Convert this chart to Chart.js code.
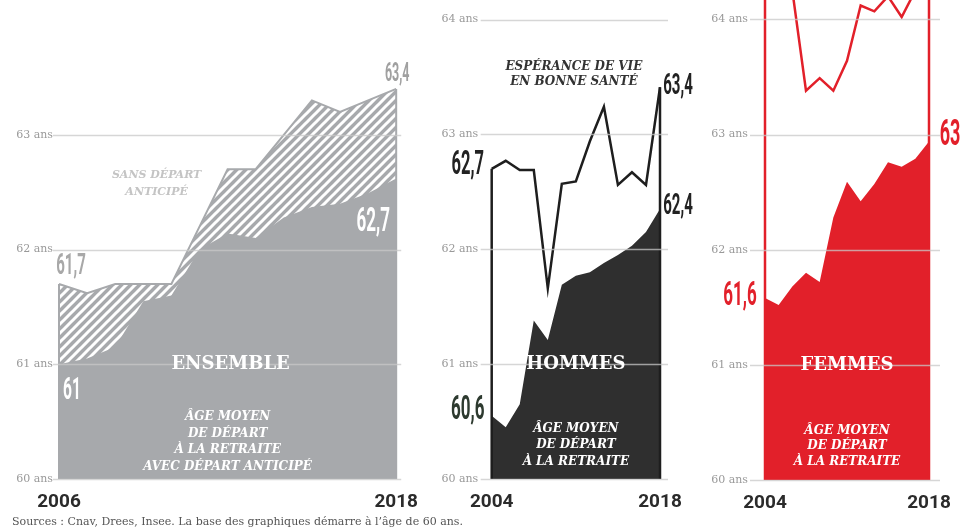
<!DOCTYPE html>
<html lang="fr">
<head>
<meta charset="utf-8">
<script src="https://cdn.jsdelivr.net/npm/chart.js@4.4.1/dist/chart.umd.min.js"></script>
<style>
  html, body { margin: 0; padding: 0; background: #fff; }
  body { position: relative; width: 968px; height: 531px; overflow: hidden; }
  .panneau { position: absolute; top: -30px; }
  #source { position: absolute; left: 12px; top: 515px; font: 11px 'DejaVu Serif', serif; line-height: 14px; color: #555; white-space: nowrap; }
</style>
</head>
<body>
<div class="panneau" style="left:0px"><canvas id="graphe_ensemble" width="430" height="561"></canvas></div>
<div class="panneau" style="left:425px"><canvas id="graphe_hommes" width="275" height="561"></canvas></div>
<div class="panneau" style="left:695px"><canvas id="graphe_femmes" width="273" height="561"></canvas></div>
<div id="source">Sources : Cnav, Drees, Insee. La base des graphiques démarre à l’âge de 60 ans.</div>
<script>
//Couleurs
const gris = '#a7a9ac';
const noir = '#2f2f2f';
const rouge = '#e2202a';

//Ensemble : 2006 à 2018
const anneesEnsemble = ['2006', '2007', '2008', '2009', '2010', '2011', '2012', '2013', '2014', '2015', '2016', '2017', '2018'];
const sansDepartAnticipe = [61.7, 61.62, 61.7, 61.7, 61.7, 62.2, 62.7, 62.7, 63.0, 63.3, 63.2, 63.3, 63.4];
const avecDepartAnticipe = [61.0, 61.05, 61.15, 61.55, 61.6, 62.0, 62.14, 62.1, 62.28, 62.37, 62.4, 62.49, 62.62];

//Hommes et femmes : 13 points entre les reperes 2004 et 2018
const reperesHF = ['2004', '2018'];
const esperanceHommes = [62.7, 62.77, 62.69, 62.69, 61.66, 62.57, 62.59, 62.94, 63.24, 62.56, 62.67, 62.56, 63.41];
const departHommes = [60.55, 60.45, 60.65, 61.38, 61.21, 61.69, 61.77, 61.8, 61.88, 61.95, 62.03, 62.15, 62.35];
const esperanceFemmes = [64.6, 64.5, 64.25, 63.38, 63.49, 63.38, 63.64, 64.12, 64.07, 64.2, 64.02, 64.25, 64.4];
const departFemmes = [61.58, 61.52, 61.68, 61.8, 61.72, 62.28, 62.59, 62.42, 62.57, 62.76, 62.72, 62.79, 62.94];

const pointsHF = esperanceHommes.map((v, i) => i);

//Motif hachure pour "sans depart anticipe"
const hachures = () => {
    let c = document.createElement('canvas');
    c.width = 9;
    c.height = 9;
    let g = c.getContext('2d');
    g.fillStyle = gris;
    g.fillRect(0, 0, 9, 9);
    g.strokeStyle = '#fff';
    g.lineWidth = 3;
    g.beginPath();
    g.moveTo(0, 9); g.lineTo(9, 0);
    g.moveTo(-4.5, 4.5); g.lineTo(4.5, -4.5);
    g.moveTo(4.5, 13.5); g.lineTo(13.5, 4.5);
    g.stroke();
    return g.createPattern(c, 'repeat');
};

//Texte condense (chiffres)
const texteCondense = (ctx, texte, x, y, taille, couleur) => {
    ctx.save();
    ctx.translate(x, y);
    ctx.scale(0.5, 1);
    ctx.font = 'bold ' + taille + 'px Roboto';
    ctx.fillStyle = couleur;
    ctx.textAlign = 'center';
    ctx.textBaseline = 'middle';
    ctx.fillText(texte, 0, 0);
    ctx.restore();
};

//Plugin : grille, bords verticaux, etiquettes
const decor = (conf) => ({
    id: 'decor',
    afterDatasetsDraw(chart) {
        const ctx = chart.ctx;
        const area = chart.chartArea;
        const y = chart.scales.y;
        const base = y.getPixelForValue(60);

        //bords verticaux des courbes
        chart.data.datasets.forEach((ds, i) => {
            if (!ds.bords) return;
            let pts = chart.getDatasetMeta(i).data;
            ctx.save();
            ctx.beginPath();
            ctx.rect(area.left - 3, area.top, area.right - area.left + 6, area.bottom - area.top);
            ctx.clip();
            ctx.strokeStyle = ds.borderColor;
            ctx.lineWidth = ds.borderWidth;
            ctx.beginPath();
            ctx.moveTo(pts[0].x, pts[0].y);
            ctx.lineTo(pts[0].x, base);
            ctx.moveTo(pts[pts.length - 1].x, pts[pts.length - 1].y);
            ctx.lineTo(pts[pts.length - 1].x, base);
            ctx.stroke();
            ctx.restore();
        });

        //grille
        ctx.save();
        ctx.strokeStyle = 'rgba(200, 200, 200, 0.75)';
        ctx.lineWidth = 1.5;
        y.ticks.forEach(t => {
            let py = Math.round(y.getPixelForValue(t.value)) + 0.5;
            ctx.beginPath();
            ctx.moveTo(area.left - conf.gauche, py);
            ctx.lineTo(area.right + conf.droite, py);
            ctx.stroke();
        });
        ctx.restore();

        //valeurs
        conf.valeurs.forEach(v => {
            let p = chart.getDatasetMeta(v.serie).data[v.point];
            texteCondense(ctx, v.texte, p.x + v.dx, p.y + v.dy, v.taille, v.couleur);
        });

        //textes
        const centre = (area.left + area.right) / 2;
        conf.textes.forEach(t => {
            ctx.save();
            ctx.font = t.police;
            ctx.fillStyle = t.couleur;
            ctx.textAlign = 'center';
            ctx.textBaseline = 'middle';
            let y0 = y.getPixelForValue(t.valeur);
            t.lignes.forEach((l, k) => ctx.fillText(l, centre + t.dx, y0 + k * t.pas));
            ctx.restore();
        });
    }
});

const optionsPanneau = (p) => ({
    responsive: false,
    animation: false,
    events: [],
    layout: { padding: { top: p.haut, right: p.droite, left: 0, bottom: 0 } },
    plugins: { legend: { display: false }, tooltip: { enabled: false } },
    elements: { point: { radius: 0 }, line: { tension: 0, borderJoinStyle: 'miter' } },
    scales: {
        x: {
            grid: { display: false, drawTicks: false },
            border: { display: false },
            ticks: {
                autoSkip: false,
                maxRotation: 0,
                padding: 12,
                color: '#2b2b2b',
                font: { family: 'Roboto', weight: 'bold', size: 19 },
                callback: (v, i, t) => i === 0 ? p.reperes[0] : (i === t.length - 1 ? p.reperes[1] : '')
            },
            afterFit: s => { s.height = p.basX; }
        },
        y: {
            min: 60,
            max: p.max,
            grid: { display: false, drawTicks: false },
            border: { display: false },
            ticks: {
                stepSize: 1,
                includeBounds: false,
                padding: p.ecartY,
                color: '#999',
                font: { family: 'DejaVu Serif', size: 11 },
                callback: v => v + ' ans'
            },
            afterFit: s => { s.width = p.largeurY; }
        }
    }
});

const titre = 'bold 18px "DejaVu Serif"';
const legende = 'italic bold 12px "DejaVu Serif"';

//Ensemble
new Chart(document.getElementById('graphe_ensemble'), {
    type: 'line',
    data: {
        labels: anneesEnsemble,
        datasets: [
            { data: avecDepartAnticipe, fill: 'start', backgroundColor: gris, borderWidth: 0 },
            { data: sansDepartAnticipe, fill: 'start', backgroundColor: hachures(), borderColor: gris, borderWidth: 2, bords: true }
        ]
    },
    options: optionsPanneau({ haut: 96, droite: 28, basX: 52, largeurY: 59, ecartY: 6, max: 63.6,
        reperes: [anneesEnsemble[0], anneesEnsemble[anneesEnsemble.length - 1]] }),
    plugins: [decor({
        gauche: 6, droite: 5,
        valeurs: [
            { texte: '63,4', serie: 1, point: 12, dx: 1, dy: -14, taille: 25, couleur: '#a0a0a0' },
            { texte: '61,7', serie: 1, point: 0, dx: 12, dy: -17, taille: 30, couleur: '#a8a8a8' },
            { texte: '62,7', serie: 0, point: 12, dx: -23, dy: 44, taille: 34, couleur: '#fff' },
            { texte: '61', serie: 0, point: 0, dx: 13, dy: 27, taille: 31, couleur: '#fff' }
        ],
        textes: [
            { lignes: ['ENSEMBLE'], valeur: 61.0, dx: 3, pas: 0, police: titre, couleur: '#fff' },
            { lignes: ['ÂGE MOYEN', 'DE DÉPART', 'À LA RETRAITE', 'AVEC DÉPART ANTICIPÉ'], valeur: 60.54, dx: 0, pas: 16.5, police: legende, couleur: '#fff' },
            { lignes: ['SANS DÉPART', 'ANTICIPÉ'], valeur: 62.65, dx: -71, pas: 17, police: 'italic bold 11px "DejaVu Serif"', couleur: '#c4c4c4' }
        ]
    })]
});

//Hommes
new Chart(document.getElementById('graphe_hommes'), {
    type: 'line',
    data: {
        labels: pointsHF,
        datasets: [
            { data: esperanceHommes, fill: false, borderColor: '#1e1e1e', borderWidth: 2.5, bords: true },
            { data: departHommes, fill: 'start', backgroundColor: noir, borderWidth: 0 }
        ]
    },
    options: optionsPanneau({ haut: 30, droite: 40, basX: 52, largeurY: 66.7, ecartY: 13.5, max: 64.17, reperes: reperesHF }),
    plugins: [decor({
        gauche: 11, droite: 8,
        valeurs: [
            { texte: '62,7', serie: 0, point: 0, dx: -24, dy: -3, taille: 33, couleur: '#222' },
            { texte: '63,4', serie: 0, point: 12, dx: 18, dy: -1, taille: 30, couleur: '#222' },
            { texte: '62,4', serie: 1, point: 12, dx: 18, dy: -3, taille: 30, couleur: '#222' },
            { texte: '60,6', serie: 1, point: 0, dx: -24, dy: -5, taille: 34, couleur: '#2d3a2f' }
        ],
        textes: [
            { lignes: ['HOMMES'], valeur: 61.0, dx: 0, pas: 0, police: titre, couleur: '#fff' },
            { lignes: ['ÂGE MOYEN', 'DE DÉPART', 'À LA RETRAITE'], valeur: 60.44, dx: 0, pas: 16.5, police: legende, couleur: '#fff' },
            { lignes: ['ESPÉRANCE DE VIE', 'EN BONNE SANTÉ'], valeur: 63.59, dx: -2, pas: 15.5, police: legende, couleur: '#333' }
        ]
    })]
});

//Femmes
new Chart(document.getElementById('graphe_femmes'), {
    type: 'line',
    data: {
        labels: pointsHF,
        datasets: [
            { data: esperanceFemmes, fill: false, borderColor: rouge, borderWidth: 2.5, bords: true },
            { data: departFemmes, fill: 'start', backgroundColor: rouge, borderWidth: 0 }
        ]
    },
    options: optionsPanneau({ haut: 30, droite: 39, basX: 51, largeurY: 70, ecartY: 17, max: 64.168, reperes: reperesHF }),
    plugins: [decor({
        gauche: 15, droite: 11,
        valeurs: [
            { texte: '61,6', serie: 1, point: 0, dx: -25, dy: -2, taille: 34, couleur: rouge },
            { texte: '63', serie: 1, point: 12, dx: 21, dy: -5, taille: 36, couleur: rouge }
        ],
        textes: [
            { lignes: ['FEMMES'], valeur: 61.0, dx: 0, pas: 0, police: titre, couleur: '#fff' },
            { lignes: ['ÂGE MOYEN', 'DE DÉPART', 'À LA RETRAITE'], valeur: 60.43, dx: 0, pas: 15.5, police: legende, couleur: '#fff' }
        ]
    })]
});
</script>
</body>
</html>
